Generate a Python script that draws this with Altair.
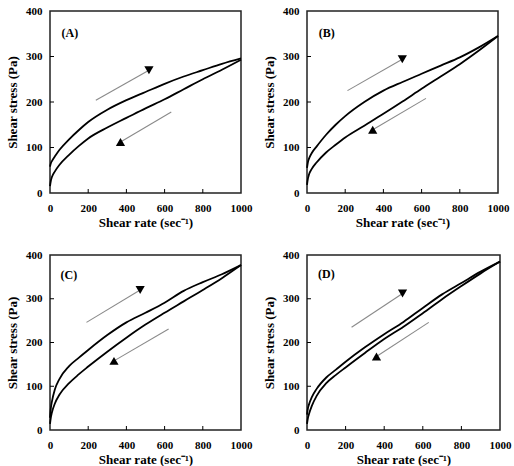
import altair as alt
import pandas as pd

# ---- data ----
shear_rate = [0, 5, 10, 25, 50, 100, 150, 200, 300, 400, 500, 600, 700, 800, 900, 1000]

up_A = [58, 66, 70, 80, 95, 118, 138, 156, 183, 204, 222, 240, 256, 270, 284, 296]
down_A = [15, 28, 35, 47, 62, 84, 103, 120, 144, 165, 186, 206, 228, 250, 271, 293]

up_B = [55, 68, 75, 88, 102, 128, 150, 169, 200, 225, 244, 262, 280, 298, 320, 345]
down_B = [18, 32, 40, 53, 67, 89, 106, 122, 148, 174, 201, 229, 256, 283, 313, 345]

up_C = [28, 52, 65, 92, 117, 146, 165, 183, 217, 246, 268, 291, 318, 338, 356, 377]
down_C = [14, 30, 40, 60, 81, 107, 127, 145, 179, 211, 241, 268, 294, 320, 347, 377]

up_D = [35, 50, 58, 75, 94, 120, 138, 156, 189, 219, 247, 279, 310, 336, 362, 385]
down_D = [14, 28, 36, 55, 78, 107, 126, 143, 176, 208, 236, 267, 299, 329, 358, 385]

panel_names = ["A", "B", "C", "D"]
panel_labels = ["(A)", "(B)", "(C)", "(D)"]
label_x = [104, 104, 99, 100]
label_y = [351, 352, 355, 356]

# arrows (data units): upward-loop arrow and downward-loop arrow
arrow_up_x1 = [240, 212, 191, 231]
arrow_up_y1 = [204, 225, 246, 235]
arrow_up_x2 = [518, 499, 472, 495]
arrow_up_y2 = [270, 294, 320, 312]
arrow_dn_x1 = [635, 623, 621, 631]
arrow_dn_y1 = [178, 208, 231, 246]
arrow_dn_x2 = [369, 344, 335, 360]
arrow_dn_y2 = [112, 139, 158, 168]

x_ticks = [0, 200, 400, 600, 800, 1000]
y_ticks = [0, 100, 200, 300, 400]
inner_x_ticks = [200, 400, 600, 800]
inner_y_ticks = [100, 200, 300]

curves = {"A": (up_A, down_A), "B": (up_B, down_B), "C": (up_C, down_C), "D": (up_D, down_D)}

FONT = "Liberation Serif"

XS = alt.Scale(domain=[0, 1000], nice=False)
YS = alt.Scale(domain=[0, 400], nice=False)
COMMON = dict(format="d", labelOverlap=False, labelFlush=False, labelBound=False,
              labelSeparation=0)
XAX = alt.Axis(values=x_ticks, title="Shear rate (sec\u207B\u00B9)", **COMMON)
YAX = alt.Axis(values=y_ticks, title="Shear stress (Pa)", **COMMON)


def X(f):
    return alt.X(f, scale=XS, axis=XAX)


def Y(f):
    return alt.Y(f, scale=YS, axis=YAX)


def make_panel(i, w, h):
    name = panel_names[i]
    up, down = curves[name]
    df = pd.DataFrame({
        "rate": shear_rate + shear_rate,
        "stress": up + down,
        "branch": ["up"] * len(shear_rate) + ["down"] * len(shear_rate),
    })

    lines = alt.Chart(df).mark_line(color="black", strokeWidth=1.8, interpolate="monotone").encode(
        x=X("rate:Q"), y=Y("stress:Q"),
        detail="branch:N",
        order="rate:Q",
    )

    arr = pd.DataFrame({
        "x1": [arrow_up_x1[i], arrow_dn_x1[i]],
        "y1": [arrow_up_y1[i], arrow_dn_y1[i]],
        "x2": [arrow_up_x2[i], arrow_dn_x2[i]],
        "y2": [arrow_up_y2[i], arrow_dn_y2[i]],
        "shape": ["triangle-down", "triangle-up"],
    })
    rules = alt.Chart(arr).mark_rule(color="#8a8a8a", strokeWidth=1.1).encode(
        x=X("x1:Q"), y=Y("y1:Q"), x2="x2:Q", y2="y2:Q",
    )
    heads = alt.Chart(arr).mark_point(filled=True, color="black", opacity=1, size=85).encode(
        x=X("x2:Q"), y=Y("y2:Q"),
        shape=alt.Shape("shape:N", scale=None),
    )

    lab = pd.DataFrame({"x": [label_x[i]], "y": [label_y[i]], "t": [panel_labels[i]]})
    text = alt.Chart(lab).mark_text(font=FONT, fontWeight="bold", fontSize=12, color="black").encode(
        x=X("x:Q"), y=Y("y:Q"), text="t:N",
    )

    xt = alt.Chart(pd.DataFrame({"v": inner_x_ticks})).mark_rule(color="black", strokeWidth=1).encode(
        x=X("v:Q"), y=alt.value(h), y2=alt.value(h - 4),
    )
    yt = alt.Chart(pd.DataFrame({"v": inner_y_ticks})).mark_rule(color="black", strokeWidth=1).encode(
        y=Y("v:Q"), x=alt.value(0), x2=alt.value(4),
    )

    return alt.layer(lines, rules, heads, text, xt, yt).properties(width=w, height=h)


row1 = alt.hconcat(make_panel(0, 191, 182), make_panel(1, 191, 182), spacing=9)
row2 = alt.hconcat(make_panel(2, 191, 175), make_panel(3, 193, 175), spacing=9)

chart = alt.vconcat(row1, row2, spacing=18).properties(
    padding={"left": 5, "top": 4, "right": 0, "bottom": 0},
    background="white",
).configure_view(
    stroke="#222222", strokeWidth=1.5,
).configure_axis(
    grid=False, ticks=False, domain=False,
    labelFont=FONT, labelFontWeight="bold", labelFontSize=11, labelColor="black",
    titleFont=FONT, titleFontWeight="bold", titleFontSize=13, titleColor="black",
    labelPadding=8, labelOverlap=False,
).configure_axisX(
    titlePadding=3, labelPadding=9,
).configure_axisY(
    titlePadding=6,
)

chart.save("out.html", embed_options={"renderer": "svg", "actions": False})
